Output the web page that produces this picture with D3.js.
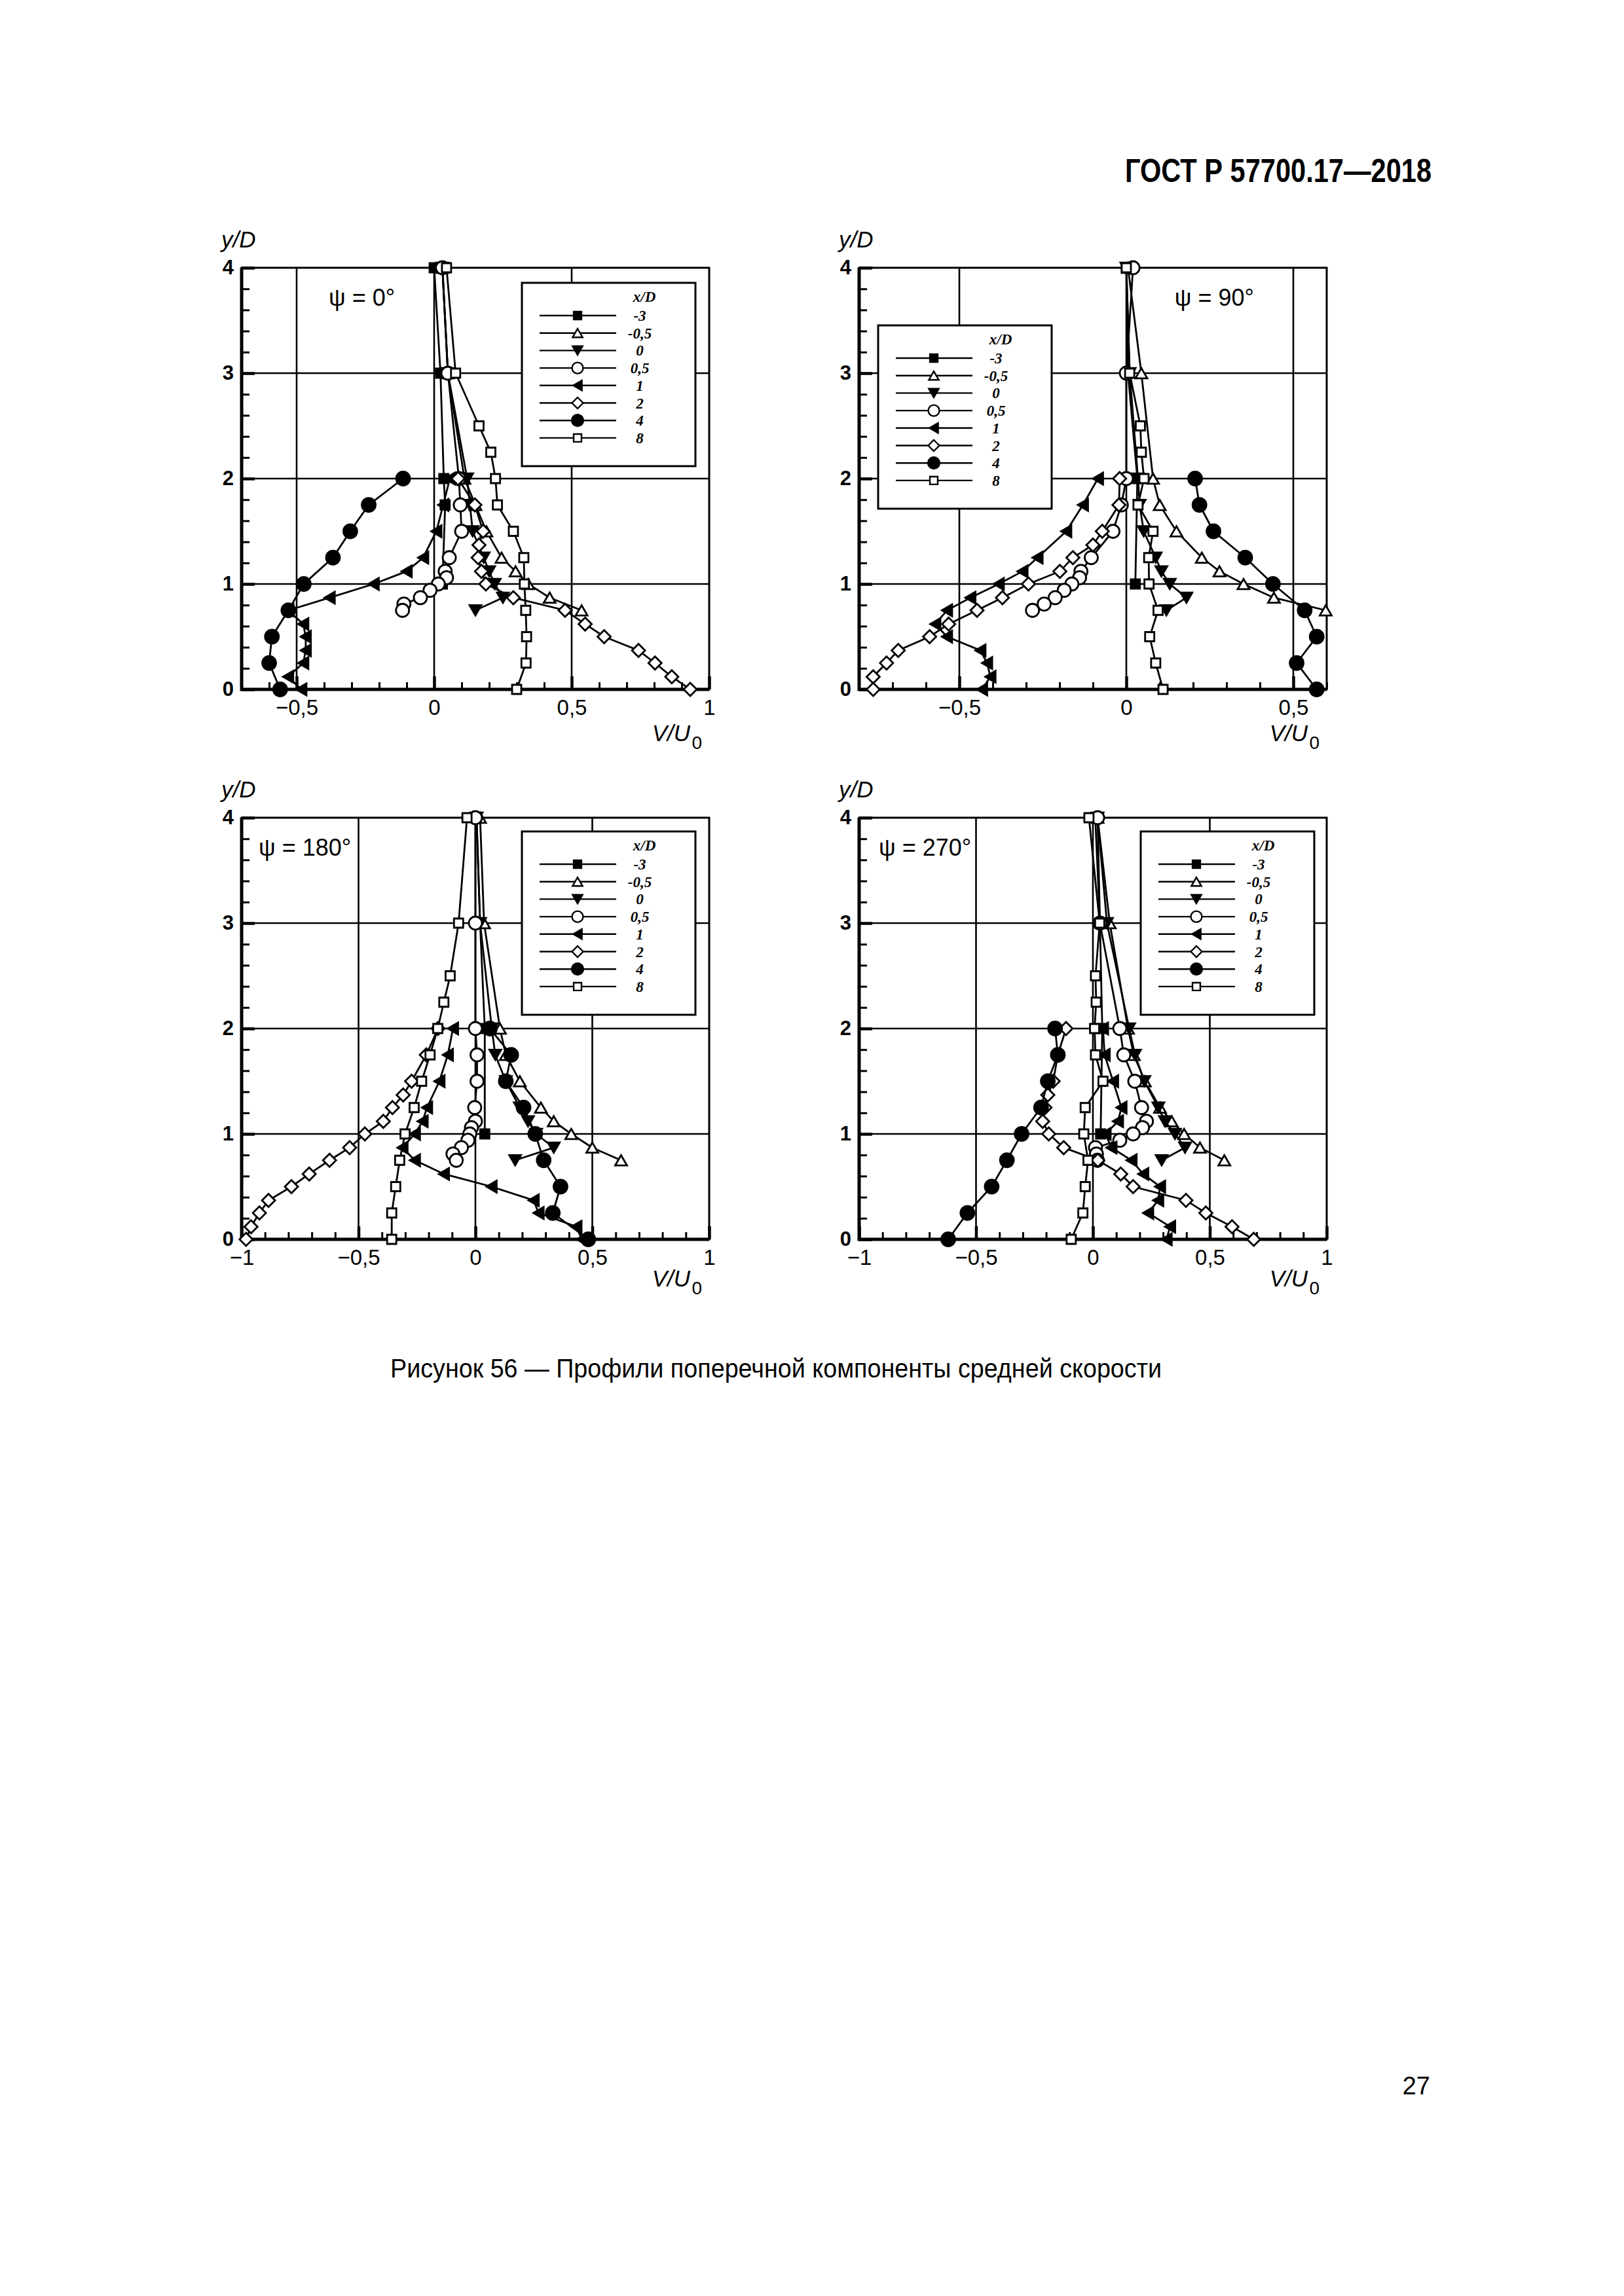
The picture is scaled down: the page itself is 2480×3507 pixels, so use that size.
<!DOCTYPE html>
<html>
<head>
<meta charset="utf-8">
<script src="https://cdn.jsdelivr.net/npm/d3@7"></script>
<style>
  body { margin: 0; background: #fff; }
  svg { display: block; }
</style>
</head>
<body>
<script>
// ---- data ----
const seriesLabels = ['-3', '-0,5', '0', '0,5', '1', '2', '4', '8']

// y/D levels of each series
const yM3 = [4, 3, 2, 1]
const yM3psi0 = [4, 3, 2, 1.75, 1]
const yTri = [4, 3, 2, 1.75, 1.5, 1.25, 1.12, 1, 0.87, 0.75]
const yRing = [4, 3, 2, 1.75, 1.5, 1.25, 1.12, 1.06, 1, 0.94, 0.87, 0.81, 0.75]
const yLeft = [2, 1.75, 1.5, 1.25, 1.12, 1, 0.87, 0.75, 0.62, 0.5, 0.37, 0.25, 0.12, 0]
const yDiam = [2, 1.75, 1.5, 1.37, 1.25, 1.12, 1, 0.87, 0.75, 0.62, 0.5, 0.37, 0.25, 0.12, 0]
const yDot = [2, 1.75, 1.5, 1.25, 1, 0.75, 0.5, 0.25, 0]
const ySq = [4, 3, 2.5, 2.25, 2, 1.75, 1.5, 1.25, 1, 0.75, 0.5, 0.25, 0]

// V/U0, psi = 0
const p0_m3 = [0.0, 0.023, 0.035, 0.04, 0.03]
const p0_m05 = [0.03, 0.05, 0.11, 0.15, 0.19, 0.245, 0.296, 0.342, 0.42, 0.536]
const p0_0 = [0.03, 0.05, 0.12, 0.13, 0.14, 0.18, 0.2, 0.22, 0.25, 0.15]
const p0_05 = [0.03, 0.05, 0.09, 0.095, 0.1, 0.055, 0.04, 0.045, 0.015, -0.015, -0.05, -0.11, -0.115]
const p0_1 = [0.057, 0.033, 0.008, -0.04, -0.1, -0.22, -0.38, -0.53, -0.476, -0.467, -0.467, -0.476, -0.531, -0.483]
const p0_2 = [0.087, 0.148, 0.178, 0.163, 0.16, 0.172, 0.188, 0.288, 0.476, 0.549, 0.618, 0.743, 0.803, 0.864, 0.931]
const p0_4 = [-0.113, -0.238, -0.305, -0.368, -0.474, -0.53, -0.59, -0.6, -0.56]
const p0_8 = [0.045, 0.078, 0.163, 0.206, 0.223, 0.23, 0.288, 0.326, 0.328, 0.333, 0.336, 0.334, 0.30]

// V/U0, psi = 90
const p90_m3 = [0.0, 0.005, 0.033, 0.027]
const p90_m05 = [0.005, 0.045, 0.08, 0.10, 0.15, 0.226, 0.279, 0.351, 0.442, 0.597]
const p90_0 = [0.0, 0.01, 0.035, 0.04, 0.052, 0.088, 0.105, 0.13, 0.18, 0.12]
const p90_05 = [0.02, 0.0, 0.0, -0.015, -0.04, -0.105, -0.136, -0.14, -0.163, -0.186, -0.213, -0.246, -0.281]
const p90_1 = [-0.085, -0.13, -0.18, -0.266, -0.311, -0.382, -0.467, -0.537, -0.572, -0.537, -0.437, -0.417, -0.407, -0.432]
const p90_2 = [-0.02, -0.022, -0.072, -0.1, -0.16, -0.199, -0.293, -0.371, -0.447, -0.532, -0.589, -0.683, -0.718, -0.758, -0.758]
const p90_4 = [0.206, 0.219, 0.261, 0.356, 0.439, 0.534, 0.57, 0.51, 0.57]
const p90_8 = [0.0, 0.01, 0.042, 0.045, 0.053, 0.035, 0.08, 0.067, 0.068, 0.095, 0.07, 0.088, 0.11]

// V/U0, psi = 180
const p180_m3 = [0.005, 0.02, 0.04, 0.04]
const p180_m05 = [0.02, 0.037, 0.105, 0.13, 0.19, 0.28, 0.335, 0.41, 0.5, 0.623]
const p180_0 = [0.005, 0.02, 0.07, 0.085, 0.13, 0.19, 0.225, 0.26, 0.335, 0.17]
const p180_05 = [0.0, 0.0, 0.0, 0.007, 0.007, -0.003, 0.0, -0.017, -0.024, -0.032, -0.06, -0.096, -0.082]
const p180_1 = [-0.096, -0.118, -0.154, -0.207, -0.226, -0.259, -0.312, -0.259, -0.135, 0.069, 0.249, 0.27, 0.432, 0.455]
const p180_2 = [-0.16, -0.21, -0.273, -0.309, -0.355, -0.394, -0.473, -0.538, -0.624, -0.711, -0.787, -0.885, -0.924, -0.96, -0.981]
const p180_4 = [0.062, 0.153, 0.13, 0.206, 0.256, 0.292, 0.364, 0.331, 0.483]
const p180_8 = [-0.036, -0.072, -0.108, -0.135, -0.161, -0.194, -0.23, -0.262, -0.301, -0.324, -0.341, -0.358, -0.358]

// V/U0, psi = 270
const p270_m3 = [0.01, 0.03, 0.04, 0.033]
const p270_m05 = [0.02, 0.072, 0.15, 0.175, 0.222, 0.287, 0.337, 0.39, 0.458, 0.562]
const p270_0 = [0.02, 0.06, 0.155, 0.18, 0.22, 0.28, 0.308, 0.351, 0.394, 0.294]
const p270_05 = [0.02, 0.03, 0.115, 0.132, 0.179, 0.208, 0.229, 0.212, 0.172, 0.115, 0.011, 0.015, 0.019]
const p270_1 = [0.043, 0.05, 0.086, 0.122, 0.107, 0.054, 0.079, 0.165, 0.215, 0.287, 0.279, 0.236, 0.33, 0.315]
const p270_2 = [-0.115, -0.15, -0.17, -0.193, -0.205, -0.215, -0.189, -0.125, 0.021, 0.119, 0.172, 0.398, 0.483, 0.595, 0.688]
const p270_4 = [-0.162, -0.15, -0.193, -0.222, -0.305, -0.368, -0.433, -0.537, -0.619]
const p270_8 = [-0.017, 0.029, 0.011, 0.014, 0.007, 0.011, 0.043, -0.033, -0.039, -0.021, -0.033, -0.043, -0.093]

const yTicks = [0, 1, 2, 3, 4]
const xTicks0 = [-0.5, 0, 0.5, 1]
const xTicks90 = [-0.5, 0, 0.5]
const xTicksFull = [-1, -0.5, 0, 0.5, 1]

// ---- layout ----
const W = 2480, H = 3507
const pw = 714, ph = 644

const svg = d3.select('body').append('svg')
    .attr('width', W)
    .attr('height', H)
    .style('background', '#fff')

const sans = 'Liberation Sans, Arial, sans-serif'
const serif = 'Liberation Serif, Times New Roman, serif'

const fmt = v => (v < 0 ? '\u2212' : '') + String(Math.abs(v)).replace('.', ',')

const yOrder = [null, yTri, yTri, yRing, yLeft, yDiam, yDot, ySq]

const panels = [
    { psi: 'ψ = 0°', left: 369, top: 409, dom: [-0.7, 1], ticks: xTicks0,
      psiX: 133, psiAnchor: 'start', legX: 428, legY: 23, vuY: 79,
      series: [p0_m3, p0_m05, p0_0, p0_05, p0_1, p0_2, p0_4, p0_8], yM: yM3psi0 },
    { psi: 'ψ = 90°', left: 1312, top: 409, dom: [-0.8, 0.6], ticks: xTicks90,
      psiX: 603, psiAnchor: 'end', legX: 29, legY: 88, vuY: 79,
      series: [p90_m3, p90_m05, p90_0, p90_05, p90_1, p90_2, p90_4, p90_8], yM: yM3 },
    { psi: 'ψ = 180°', left: 369, top: 1249, dom: [-1, 1], ticks: xTicksFull,
      psiX: 26, psiAnchor: 'start', legX: 428, legY: 21, vuY: 72,
      series: [p180_m3, p180_m05, p180_0, p180_05, p180_1, p180_2, p180_4, p180_8], yM: yM3 },
    { psi: 'ψ = 270°', left: 1312, top: 1249, dom: [-1, 1], ticks: xTicksFull,
      psiX: 30, psiAnchor: 'start', legX: 430, legY: 21, vuY: 72,
      series: [p270_m3, p270_m05, p270_0, p270_05, p270_1, p270_2, p270_4, p270_8], yM: yM3 }
]

// marker styles per series
const markers = [
    { type: 'square', size: 14, fill: '#000' },
    { type: 'up', size: 18, fill: '#fff' },
    { type: 'down', size: 18, fill: '#000' },
    { type: 'circle', size: 20, fill: '#fff' },
    { type: 'left', size: 18, fill: '#000' },
    { type: 'diamond', size: 20, fill: '#fff' },
    { type: 'circle', size: 21, fill: '#000' },
    { type: 'square', size: 14, fill: '#fff' }
]

function markerPath(type, s) {
    const h = s / 2
    const t = s * 0.433
    if (type === 'square') return `M${-h},${-h}H${h}V${h}H${-h}Z`
    if (type === 'up') return `M0,${-t}L${h},${t}L${-h},${t}Z`
    if (type === 'down') return `M0,${t}L${h},${-t}L${-h},${-t}Z`
    if (type === 'left') return `M${-t},0L${t},${-h}L${t},${h}Z`
    if (type === 'diamond') return `M0,${-h}L${h},0L0,${h}L${-h},0Z`
    return d3.symbol().type(d3.symbolCircle).size(Math.PI * h * h)()
}

panels.forEach(p => {
    const g = svg.append('g').attr('transform', `translate(${p.left}, ${p.top})`)

    const x = d3.scaleLinear().domain(p.dom).range([0, pw])
    const y = d3.scaleLinear().domain([0, 4]).range([ph, 0])

    // grid
    g.selectAll('.vgrid')
        .data(p.ticks.filter(t => t > p.dom[0] && t < p.dom[1]))
        .enter().append('line')
        .attr('x1', d => x(d)).attr('x2', d => x(d))
        .attr('y1', 0).attr('y2', ph)
        .attr('stroke', '#000').attr('stroke-width', 2.6)
    g.selectAll('.hgrid')
        .data([1, 2, 3])
        .enter().append('line')
        .attr('x1', 0).attr('x2', pw)
        .attr('y1', d => y(d)).attr('y2', d => y(d))
        .attr('stroke', '#000').attr('stroke-width', 2.6)

    // minor and major ticks (inward)
    const xMinor = d3.range(Math.round(p.dom[0] * 10), Math.round(p.dom[1] * 10) + 1).map(v => v / 10)
    const xAxisMinor = g.append('g')
        .attr('transform', `translate(0, ${ph})`)
        .call(d3.axisBottom(x).tickValues(xMinor).tickSize(-11).tickFormat(''))
    const xAxisMajor = g.append('g')
        .attr('transform', `translate(0, ${ph})`)
        .call(d3.axisBottom(x).tickValues(p.ticks).tickSize(-20).tickPadding(16).tickFormat(fmt))
    const yAxisMinor = g.append('g')
        .call(d3.axisLeft(y).tickValues(d3.range(0, 21).map(v => v / 5)).tickSize(-12).tickFormat(''))
    const yAxisMajor = g.append('g')
        .call(d3.axisLeft(y).tickValues(yTicks).tickSize(-20).tickPadding(12).tickFormat(d3.format('d')))

    g.selectAll('.domain').remove()
    xAxisMinor.selectAll('line').attr('stroke', '#000').attr('stroke-width', 3)
    yAxisMinor.selectAll('line').attr('stroke', '#000').attr('stroke-width', 3)
    xAxisMajor.selectAll('line').attr('stroke', '#000').attr('stroke-width', 4.5)
    yAxisMajor.selectAll('line').attr('stroke', '#000').attr('stroke-width', 4.5)
    xAxisMajor.selectAll('text')
        .attr('font-family', sans).attr('font-size', 33).attr('fill', '#000')
    yAxisMajor.selectAll('text')
        .attr('font-family', sans).attr('font-size', 31).attr('font-weight', 'bold').attr('fill', '#000')

    // frame
    g.append('rect')
        .attr('width', pw).attr('height', ph)
        .attr('fill', 'none').attr('stroke', '#000').attr('stroke-width', 3)
    g.append('path')
        .attr('d', `M0,0V${ph}H${pw}`)
        .attr('fill', 'none').attr('stroke', '#000').attr('stroke-width', 5)

    // axis titles
    g.append('text')
        .attr('x', -31).attr('y', -31)
        .attr('font-family', sans).attr('font-size', 35).attr('font-style', 'italic')
        .text('y/D')
    g.append('text')
        .attr('x', pw - 29).attr('y', ph + p.vuY)
        .attr('text-anchor', 'end')
        .attr('font-family', sans).attr('font-size', 35).attr('font-style', 'italic')
        .text('V/U')
    g.append('text')
        .attr('x', pw - 11).attr('y', ph + p.vuY + 12)
        .attr('text-anchor', 'end')
        .attr('font-family', sans).attr('font-size', 28)
        .text('0')

    // psi label
    g.append('text')
        .attr('x', p.psiX).attr('y', 58)
        .attr('text-anchor', p.psiAnchor)
        .attr('font-family', sans).attr('font-size', 36)
        .text(p.psi)

    // series
    const line = d3.line().x(d => x(d.v)).y(d => y(d.y))
    p.series.forEach((vals, i) => {
        const ys = i === 0 ? p.yM : yOrder[i]
        const pts = vals.map((v, k) => ({ v: v, y: ys[k] }))
        g.append('path')
            .datum(pts)
            .attr('d', line)
            .attr('fill', 'none').attr('stroke', '#000').attr('stroke-width', 2.8)
        const m = markers[i]
        g.selectAll('.m' + i)
            .data(pts)
            .enter().append('path')
            .attr('class', 'm' + i)
            .attr('transform', d => `translate(${x(d.v)}, ${y(d.y)})`)
            .attr('d', markerPath(m.type, m.size))
            .attr('fill', m.fill).attr('stroke', '#000').attr('stroke-width', 2.8)
    })

    // legend
    const lg = g.append('g').attr('transform', `translate(${p.legX}, ${p.legY})`)
    lg.append('rect')
        .attr('width', 265).attr('height', 280)
        .attr('fill', '#fff').attr('stroke', '#000').attr('stroke-width', 3)
    lg.append('text')
        .attr('x', 187).attr('y', 29)
        .attr('text-anchor', 'middle')
        .attr('font-family', serif).attr('font-size', 23)
        .attr('font-weight', 'bold').attr('font-style', 'italic')
        .text('x/D')
    seriesLabels.forEach((lab, i) => {
        const ly = 50 + i * 26.7
        lg.append('line')
            .attr('x1', 27).attr('x2', 144).attr('y1', ly).attr('y2', ly)
            .attr('stroke', '#000').attr('stroke-width', 2.4)
        const m = markers[i]
        lg.append('path')
            .attr('transform', `translate(85, ${ly})`)
            .attr('d', markerPath(m.type, m.size * 0.85))
            .attr('fill', m.fill).attr('stroke', '#000').attr('stroke-width', 2.4)
        lg.append('text')
            .attr('x', 180).attr('y', ly)
            .attr('dy', '0.35em')
            .attr('text-anchor', 'middle')
            .attr('font-family', serif).attr('font-size', 23)
            .attr('font-weight', 'bold').attr('font-style', 'italic')
            .text(lab)
    })
})

// page texts
svg.append('text')
    .attr('x', 2186).attr('y', 278)
    .attr('text-anchor', 'end')
    .attr('font-family', sans).attr('font-size', 50).attr('font-weight', 'bold')
    .attr('textLength', 468).attr('lengthAdjust', 'spacingAndGlyphs')
    .text('ГОСТ Р 57700.17—2018')

svg.append('text')
    .attr('x', 596).attr('y', 2104)
    .attr('font-family', sans).attr('font-size', 40)
    .attr('textLength', 1178).attr('lengthAdjust', 'spacingAndGlyphs')
    .text('Рисунок 56 — Профили поперечной компоненты средней скорости')

svg.append('text')
    .attr('x', 2184).attr('y', 3199)
    .attr('text-anchor', 'end')
    .attr('font-family', sans).attr('font-size', 38)
    .text('27')
</script>
</body>
</html>
